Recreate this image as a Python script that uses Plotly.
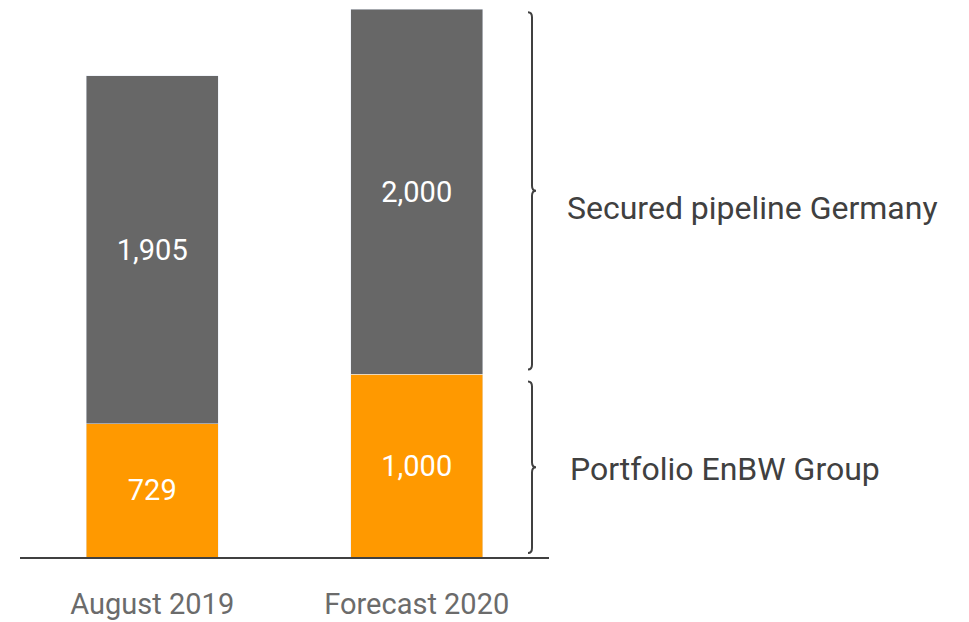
import plotly.graph_objects as go

# Data
categories = ["August 2019", "Forecast 2020"]
portfolio = [729, 1000]          # Portfolio EnBW Group
pipeline = [1905, 2000]          # Secured pipeline Germany
group_labels = ["Portfolio EnBW Group", "Secured pipeline Germany"]

ORANGE = "#FF9900"
GREY = "#676767"
DARK = "#404040"
FONT = "Roboto"

W, H = 969, 622
M_L, M_R, M_T, M_B = 20, 420, 0, 65
PLOT_W = W - M_L - M_R
PLOT_H = H - M_T - M_B
Y_MAX = 3050

fig = go.Figure()
fig.add_trace(go.Bar(
    x=categories, y=portfolio, marker_color=ORANGE, width=0.5,
    text=[f"{v:,}" for v in portfolio], textposition="inside",
    insidetextanchor="middle", textangle=0,
    textfont=dict(color="white", size=29, family=FONT),
    name=group_labels[0],
))
fig.add_trace(go.Bar(
    x=categories, y=pipeline, marker_color=GREY, width=0.5,
    text=[f"{v:,}" for v in pipeline], textposition="inside",
    insidetextanchor="middle", textangle=0,
    textfont=dict(color="white", size=29, family=FONT),
    name=group_labels[1],
))


def px_x(p):
    """pixel x -> paper x"""
    return (p - M_L) / PLOT_W


def val_y(v, off=0.0):
    """data value plus pixel offset (up positive) -> paper y"""
    return v / Y_MAX + off / PLOT_H


def brace(v0, v1, inset_lo, inset_hi, xl=532, tip=4, curl=4, r=5):
    """Right-pointing curly brace from value v0 to v1 (paper coords)."""
    xs = px_x(xl)
    xt = px_x(xl + tip)
    xc = px_x(xl - curl)
    ytop = val_y(v1, -inset_hi)
    ybot = val_y(v0, inset_lo)
    ymid = (ytop + ybot) / 2
    d = r / PLOT_H
    path = (
        f"M {xc},{ytop} Q {xs},{ytop} {xs},{ytop - d} "
        f"L {xs},{ymid + d} Q {xs},{ymid} {xt},{ymid} "
        f"Q {xs},{ymid} {xs},{ymid - d} "
        f"L {xs},{ybot + d} Q {xs},{ybot} {xc},{ybot}"
    )
    return dict(type="path", path=path, xref="paper", yref="paper",
                line=dict(color=DARK, width=2))


total_hi = max(p + s for p, s in zip(portfolio, pipeline))
top_portfolio = max(portfolio)
fig.add_shape(brace(top_portfolio, total_hi, 5, 3))
fig.add_shape(brace(0, top_portfolio, 4, 7))

fig.add_annotation(
    x=px_x(565), y=val_y((top_portfolio + total_hi) / 2, -16),
    xref="paper", yref="paper", xanchor="left", yanchor="middle",
    text=group_labels[1], showarrow=False,
    font=dict(size=32, color=DARK, family=FONT),
)
fig.add_annotation(
    x=px_x(568), y=val_y(top_portfolio / 2, -3),
    xref="paper", yref="paper", xanchor="left", yanchor="middle",
    text=group_labels[0], showarrow=False,
    font=dict(size=32, color=DARK, family=FONT),
)

fig.update_layout(
    barmode="stack",
    width=W, height=H,
    margin=dict(l=M_L, r=M_R, t=M_T, b=M_B, pad=0),
    plot_bgcolor="white", paper_bgcolor="white",
    showlegend=False,
    font=dict(family=FONT),
    bargap=0.5,
)
fig.update_xaxes(
    range=[-0.5, 1.5], showgrid=False, zeroline=False,
    showline=True, linecolor=DARK, linewidth=2,
    ticks="outside", ticklen=20, tickcolor="rgba(0,0,0,0)",
    tickfont=dict(size=29, color="#6b6b6b", family=FONT),
)
fig.update_yaxes(
    range=[0, Y_MAX], showgrid=False, zeroline=False,
    showline=False, showticklabels=False, ticks="",
)

fig.write_html("out.html")
